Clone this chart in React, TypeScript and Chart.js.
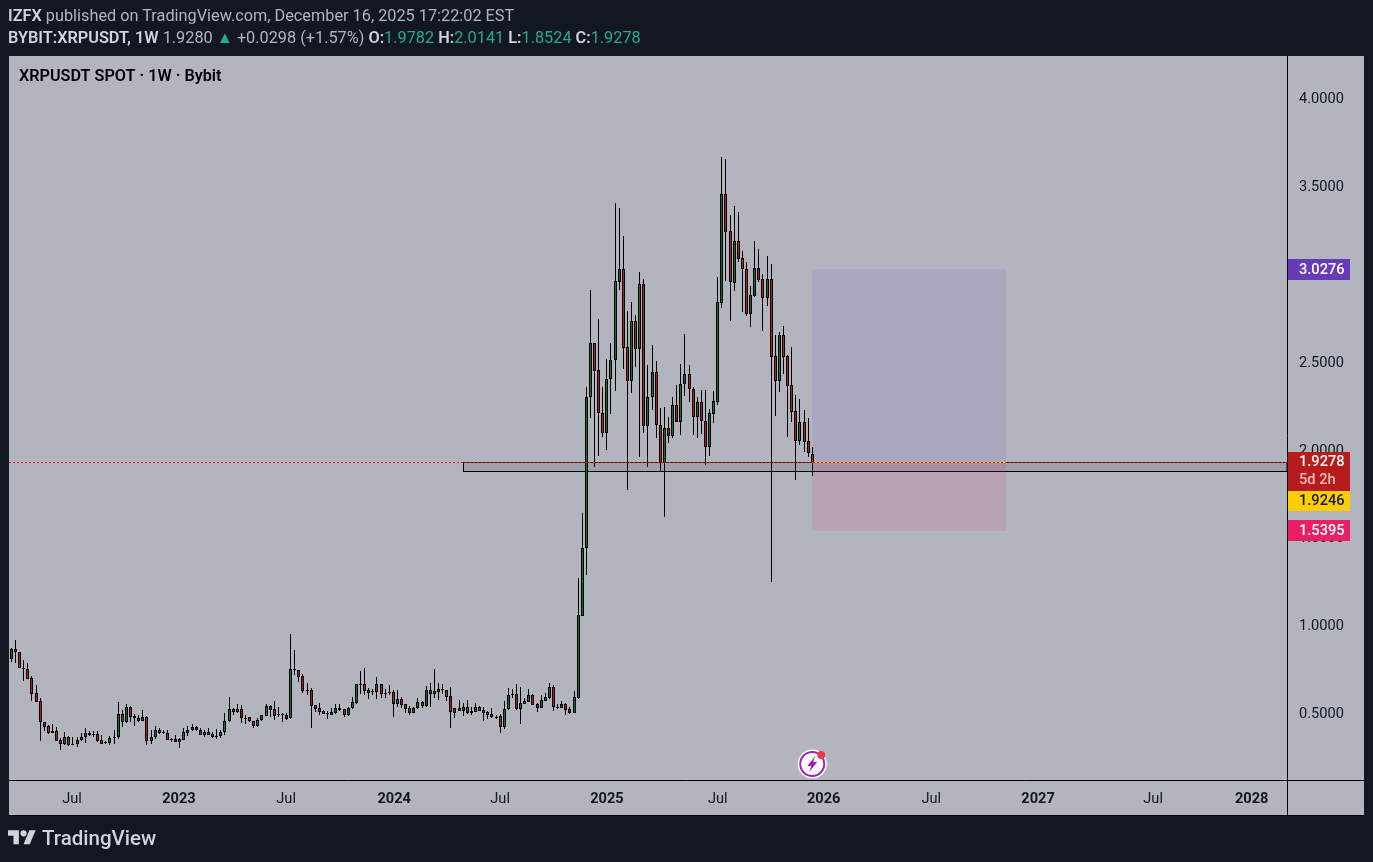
import { useEffect, useRef } from 'react';
import { Chart, registerables } from 'chart.js';
import type { Plugin } from 'chart.js';

Chart.register(...registerables);

// weekly candles
const opens = [
  0.808, 0.865, 0.848, 0.757, 0.755, 0.700, 0.615, 0.569, 0.453, 0.427,
  0.398, 0.398, 0.347, 0.326, 0.364, 0.328, 0.328, 0.347, 0.364, 0.387,
  0.381, 0.381, 0.347, 0.336, 0.332, 0.364, 0.364, 0.495, 0.453, 0.535,
  0.484, 0.472, 0.459, 0.478, 0.345, 0.364, 0.404, 0.393, 0.387, 0.353,
  0.353, 0.353, 0.351, 0.391, 0.404, 0.421, 0.404, 0.393, 0.393, 0.381,
  0.374, 0.374, 0.393, 0.455, 0.524, 0.524, 0.524, 0.472, 0.478, 0.455,
  0.431, 0.461, 0.488, 0.541, 0.524, 0.495, 0.495, 0.490, 0.472, 0.751,
  0.746, 0.711, 0.632, 0.632, 0.546, 0.529, 0.514, 0.501, 0.493, 0.503,
  0.520, 0.524, 0.491, 0.529, 0.560, 0.666, 0.666, 0.634, 0.620, 0.624,
  0.666, 0.615, 0.620, 0.620, 0.554, 0.581, 0.552, 0.529, 0.505, 0.529,
  0.563, 0.545, 0.632, 0.613, 0.624, 0.638, 0.632, 0.598, 0.505, 0.529,
  0.516, 0.535, 0.514, 0.510, 0.535, 0.518, 0.507, 0.495, 0.482, 0.484,
  0.425, 0.524, 0.609, 0.609, 0.527, 0.556, 0.567, 0.603, 0.552, 0.533,
  0.573, 0.588, 0.649, 0.539, 0.533, 0.552, 0.524, 0.505, 0.588, 1.055,
  1.442, 2.301, 2.609, 2.455, 2.210, 2.096, 2.404, 2.512, 2.956, 3.030,
  2.586, 2.392, 2.734, 2.574, 2.944, 2.136, 2.301, 2.444, 2.142, 1.926,
  2.125, 2.079, 2.256, 2.159, 2.375, 2.432, 2.347, 2.187, 2.273, 2.165,
  2.017, 2.204, 2.273, 2.836, 3.457, 3.246, 2.950, 3.189, 3.092, 3.030,
  2.774, 2.876, 3.035, 2.973, 2.865, 2.973, 2.535, 2.392, 2.654, 2.535,
  2.370, 2.221, 2.051, 2.159, 2.051, 1.978,
];

const highs = [
  0.873, 0.918, 0.848, 0.804, 0.789, 0.713, 0.662, 0.586, 0.453, 0.433,
  0.440, 0.421, 0.359, 0.395, 0.370, 0.366, 0.364, 0.389, 0.417, 0.398,
  0.400, 0.398, 0.376, 0.342, 0.370, 0.406, 0.563, 0.520, 0.552, 0.541,
  0.495, 0.491, 0.520, 0.484, 0.406, 0.427, 0.417, 0.404, 0.404, 0.362,
  0.376, 0.362, 0.417, 0.427, 0.440, 0.429, 0.416, 0.406, 0.417, 0.393,
  0.412, 0.406, 0.503, 0.592, 0.529, 0.554, 0.548, 0.490, 0.478, 0.455,
  0.476, 0.490, 0.552, 0.548, 0.569, 0.535, 0.501, 0.501, 0.952, 0.861,
  0.748, 0.725, 0.672, 0.643, 0.546, 0.558, 0.520, 0.514, 0.529, 0.552,
  0.552, 0.524, 0.535, 0.592, 0.666, 0.742, 0.759, 0.643, 0.638, 0.708,
  0.666, 0.638, 0.662, 0.634, 0.634, 0.592, 0.552, 0.543, 0.539, 0.586,
  0.571, 0.657, 0.672, 0.751, 0.672, 0.666, 0.632, 0.649, 0.529, 0.577,
  0.558, 0.577, 0.535, 0.558, 0.543, 0.535, 0.516, 0.529, 0.491, 0.495,
  0.569, 0.643, 0.638, 0.666, 0.649, 0.586, 0.638, 0.609, 0.558, 0.603,
  0.615, 0.672, 0.662, 0.554, 0.569, 0.558, 0.535, 0.628, 1.271, 1.641,
  2.358, 2.910, 2.609, 2.745, 2.358, 2.518, 2.609, 3.405, 3.377, 3.217,
  2.791, 2.842, 2.768, 3.013, 2.973, 2.483, 2.597, 2.506, 2.239, 2.244,
  2.187, 2.301, 2.370, 2.489, 2.660, 2.483, 2.358, 2.301, 2.341, 2.341,
  2.233, 2.335, 2.984, 3.667, 3.656, 3.337, 3.388, 3.354, 3.132, 3.070,
  2.933, 3.189, 3.144, 3.001, 3.104, 3.058, 2.654, 2.671, 2.705, 2.540,
  2.586, 2.313, 2.290, 2.227, 2.182, 2.014,
];

const lows = [
  0.795, 0.789, 0.757, 0.687, 0.698, 0.573, 0.567, 0.345, 0.400, 0.385,
  0.391, 0.345, 0.292, 0.321, 0.315, 0.321, 0.309, 0.345, 0.332, 0.372,
  0.364, 0.338, 0.326, 0.326, 0.321, 0.326, 0.353, 0.425, 0.448, 0.453,
  0.431, 0.453, 0.457, 0.323, 0.328, 0.355, 0.381, 0.383, 0.349, 0.338,
  0.338, 0.304, 0.349, 0.374, 0.398, 0.398, 0.376, 0.368, 0.378, 0.362,
  0.357, 0.362, 0.380, 0.453, 0.491, 0.503, 0.448, 0.440, 0.453, 0.419,
  0.425, 0.455, 0.486, 0.480, 0.463, 0.482, 0.452, 0.465, 0.471, 0.719,
  0.679, 0.619, 0.605, 0.419, 0.509, 0.491, 0.497, 0.469, 0.490, 0.497,
  0.512, 0.480, 0.486, 0.527, 0.552, 0.611, 0.603, 0.583, 0.605, 0.583,
  0.586, 0.588, 0.605, 0.480, 0.535, 0.529, 0.503, 0.491, 0.503, 0.524,
  0.529, 0.539, 0.535, 0.588, 0.577, 0.611, 0.571, 0.419, 0.474, 0.512,
  0.486, 0.499, 0.490, 0.509, 0.512, 0.457, 0.469, 0.472, 0.469, 0.391,
  0.412, 0.520, 0.588, 0.520, 0.440, 0.554, 0.565, 0.548, 0.509, 0.531,
  0.569, 0.583, 0.516, 0.524, 0.531, 0.491, 0.499, 0.503, 0.583, 1.055,
  1.288, 2.182, 1.903, 1.965, 2.074, 2.000, 2.204, 2.335, 2.910, 2.461,
  1.772, 2.324, 2.472, 1.960, 2.096, 1.903, 2.227, 2.068, 1.874, 1.618,
  2.039, 2.068, 2.159, 2.085, 2.307, 2.273, 2.085, 2.068, 2.091, 1.914,
  1.965, 2.153, 2.256, 2.808, 2.961, 2.734, 2.904, 3.070, 2.785, 2.762,
  2.700, 2.870, 2.956, 2.677, 2.819, 1.248, 2.193, 2.330, 2.432, 2.074,
  2.159, 1.829, 2.028, 1.988, 1.960, 1.852,
];

const closes = [
  0.865, 0.848, 0.757, 0.755, 0.698, 0.613, 0.567, 0.453, 0.425, 0.391,
  0.391, 0.345, 0.328, 0.364, 0.321, 0.327, 0.347, 0.364, 0.387, 0.376,
  0.380, 0.345, 0.328, 0.330, 0.359, 0.365, 0.495, 0.453, 0.535, 0.482,
  0.472, 0.459, 0.478, 0.345, 0.364, 0.404, 0.391, 0.387, 0.351, 0.352,
  0.340, 0.340, 0.393, 0.404, 0.421, 0.404, 0.380, 0.378, 0.380, 0.368,
  0.373, 0.393, 0.455, 0.524, 0.510, 0.510, 0.472, 0.471, 0.455, 0.429,
  0.461, 0.490, 0.541, 0.522, 0.488, 0.494, 0.490, 0.471, 0.751, 0.746,
  0.710, 0.630, 0.631, 0.545, 0.527, 0.510, 0.499, 0.500, 0.507, 0.529,
  0.529, 0.493, 0.529, 0.563, 0.666, 0.665, 0.628, 0.617, 0.628, 0.666,
  0.611, 0.614, 0.619, 0.556, 0.581, 0.550, 0.527, 0.503, 0.529, 0.563,
  0.545, 0.632, 0.613, 0.626, 0.638, 0.637, 0.596, 0.507, 0.529, 0.516,
  0.535, 0.505, 0.503, 0.535, 0.516, 0.505, 0.493, 0.482, 0.481, 0.425,
  0.524, 0.603, 0.608, 0.526, 0.558, 0.569, 0.603, 0.550, 0.531, 0.575,
  0.592, 0.649, 0.539, 0.538, 0.554, 0.522, 0.505, 0.592, 1.061, 1.442,
  2.301, 2.609, 2.449, 2.210, 2.096, 2.404, 2.512, 2.961, 3.030, 2.580,
  2.392, 2.734, 2.574, 2.944, 2.136, 2.301, 2.444, 2.142, 1.926, 2.125,
  2.079, 2.256, 2.159, 2.375, 2.432, 2.347, 2.187, 2.273, 2.165, 2.017,
  2.210, 2.278, 2.842, 3.457, 3.240, 2.956, 3.189, 3.087, 3.030, 2.774,
  2.882, 3.035, 2.967, 2.865, 2.973, 2.529, 2.392, 2.654, 2.529, 2.364,
  2.216, 2.051, 2.159, 2.045, 1.983, 1.928,
];

// x axis runs in weeks counted from the first candle
const timeLabels = ['Jul', '2023', 'Jul', '2024', 'Jul', '2025', 'Jul', '2026', 'Jul', '2027', 'Jul', '2028'];
const timeWeeks = [14.75, 40.8, 66.9, 93.2, 119, 145, 172, 197.8, 224, 250, 278, 302];
const priceTicks = [0.5, 1, 1.5, 2, 2.5, 3, 3.5, 4];

const lastPrice = 1.9278;
const entryPrice = 1.9246;
const targetPrice = 3.0276;
const stopPrice = 1.5395;
const boxFromWeek = 195;
const boxToWeek = 242.2;
const zoneFromWeek = 110;
const zoneTop = 1.9285;
const zoneBottom = 1.88;

const DARK = '#131722';
const PANEL = '#b2b5be';
const GREEN = '#0b6e3c';
const RED = '#bb1a1e';
const TEAL = '#22ab94';
const CHART_FONT = 'Roboto, sans-serif';

const tvPlugin: Plugin<'bar'> = {
  id: 'tvLook',
  beforeDraw(chart) {
    const { ctx, width, height, chartArea } = chart;
    ctx.save();
    ctx.fillStyle = DARK;
    ctx.fillRect(0, 0, width, height);
    ctx.fillStyle = PANEL;
    ctx.fillRect(9, chartArea.top, 1355, 759);
    ctx.restore();
  },
  beforeDatasetsDraw(chart) {
    const { ctx, chartArea, scales } = chart;
    // pin the candles to whole pixels like the reference
    chart.data.datasets.forEach((_, i) => {
      chart.getDatasetMeta(i).data.forEach((bar: any) => {
        bar.x = Math.floor(bar.x) + 0.5;
        bar.y = Math.round(bar.y);
        bar.base = Math.max(Math.round(bar.base), bar.y + 1);
      });
    });

    const x = scales.x;
    const y = scales.y;
    ctx.save();
    // support zone
    const zoneLeft = Math.round(x.getPixelForValue(zoneFromWeek)) + 0.5;
    const top = Math.floor(y.getPixelForValue(zoneTop)) + 0.5;
    const bottom = Math.floor(y.getPixelForValue(zoneBottom)) + 0.5;
    ctx.fillStyle = 'rgba(80, 80, 90, 0.2)';
    ctx.fillRect(zoneLeft, top, chartArea.right - zoneLeft, bottom - top);
    ctx.strokeStyle = '#000';
    ctx.lineWidth = 1;
    ctx.strokeRect(zoneLeft, top, chartArea.right - zoneLeft, bottom - top);

    // long position box
    const boxLeft = x.getPixelForValue(boxFromWeek);
    const boxWidth = x.getPixelForValue(boxToWeek) - boxLeft;
    const entryY = y.getPixelForValue(entryPrice);
    ctx.fillStyle = 'rgba(126, 87, 194, 0.15)';
    ctx.fillRect(boxLeft, y.getPixelForValue(targetPrice), boxWidth, entryY - y.getPixelForValue(targetPrice));
    ctx.fillStyle = 'rgba(233, 30, 99, 0.12)';
    ctx.fillRect(boxLeft, entryY, boxWidth, y.getPixelForValue(stopPrice) - entryY);
    ctx.restore();
  },
  afterDatasetsDraw(chart) {
    const { ctx, chartArea, scales } = chart;
    const x = scales.x;
    const y = scales.y;
    const lastY = Math.floor(y.getPixelForValue(zoneTop)) + 0.5;
    ctx.save();
    ctx.lineWidth = 1;
    // entry line in the box
    ctx.strokeStyle = '#ffcc00';
    ctx.beginPath();
    ctx.moveTo(x.getPixelForValue(boxFromWeek), lastY);
    ctx.lineTo(x.getPixelForValue(boxToWeek), lastY);
    ctx.stroke();
    // last price line
    ctx.strokeStyle = '#e0161c';
    ctx.setLineDash([2, 2]);
    ctx.beginPath();
    ctx.moveTo(chartArea.left, lastY);
    ctx.lineTo(chartArea.right, lastY);
    ctx.stroke();
    ctx.setLineDash([]);

    ctx.fillStyle = '#000';
    ctx.font = `600 16.2px ${CHART_FONT}`;
    ctx.textBaseline = 'middle';
    ctx.textAlign = 'left';
    ctx.fillText('XRPUSDT SPOT · 1W · Bybit', 19, 77);

    // event badge
    const badgeX = x.getPixelForValue(boxFromWeek);
    ctx.fillStyle = '#fff';
    ctx.beginPath();
    ctx.arc(badgeX, 764, 14.5, 0, Math.PI * 2);
    ctx.fill();
    ctx.strokeStyle = '#9c27b0';
    ctx.lineWidth = 2;
    ctx.beginPath();
    ctx.arc(badgeX, 764, 12, 0, Math.PI * 2);
    ctx.stroke();
    ctx.fillStyle = '#9c27b0';
    ctx.beginPath();
    ctx.moveTo(badgeX + 3, 756);
    ctx.lineTo(badgeX - 5, 766);
    ctx.lineTo(badgeX - 1, 766);
    ctx.lineTo(badgeX - 3, 772);
    ctx.lineTo(badgeX + 5, 762);
    ctx.lineTo(badgeX + 1, 762);
    ctx.closePath();
    ctx.fill();
    ctx.fillStyle = '#f23645';
    ctx.beginPath();
    ctx.arc(badgeX + 9, 755, 4, 0, Math.PI * 2);
    ctx.fill();
    ctx.restore();
  },
  afterDraw(chart) {
    const { ctx, chartArea, scales } = chart;
    const y = scales.y;
    ctx.save();
    // frame lines
    ctx.strokeStyle = '#000';
    ctx.lineWidth = 1;
    ctx.beginPath();
    ctx.moveTo(chartArea.right + 0.5, chartArea.top);
    ctx.lineTo(chartArea.right + 0.5, 815);
    ctx.moveTo(9, chartArea.bottom + 0.5);
    ctx.lineTo(1364, chartArea.bottom + 0.5);
    ctx.moveTo(9, 815.5);
    ctx.lineTo(1364, 815.5);
    ctx.stroke();

    const labelX = chartArea.right + 1;
    const labelFont = `500 14.6px ${CHART_FONT}`;
    const tag = (price: number, up: number, bg: string, text: string) => {
      const cy = y.getPixelForValue(price);
      const top = Math.round(cy) - up;
      ctx.fillStyle = bg;
      ctx.fillRect(labelX, top, 62, 21);
      ctx.fillStyle = '#fff';
      ctx.font = labelFont;
      ctx.textBaseline = 'middle';
      ctx.textAlign = 'left';
      ctx.fillText(text, labelX + 11, top + 11);
    };
    tag(targetPrice, 10, '#673ab7', targetPrice.toFixed(4));
    tag(stopPrice, 11, '#e91e63', stopPrice.toFixed(4));

    // last price tag with countdown, entry tag right below it
    const lastY = y.getPixelForValue(lastPrice);
    ctx.fillStyle = '#b71c1c';
    ctx.fillRect(labelX, Math.round(lastY - 11), 62, 39);
    ctx.fillStyle = '#ffcc00';
    ctx.fillRect(labelX, Math.round(lastY - 11) + 39, 62, 20);
    ctx.font = labelFont;
    ctx.textBaseline = 'middle';
    ctx.textAlign = 'left';
    ctx.fillStyle = '#fff';
    ctx.fillText(lastPrice.toFixed(4), labelX + 11, lastY);
    ctx.fillStyle = 'rgba(255, 255, 255, 0.7)';
    ctx.fillText('5d 2h', labelX + 11, lastY + 18);
    ctx.fillStyle = '#131722';
    ctx.fillText(entryPrice.toFixed(4), labelX + 11, lastY + 39);
    ctx.restore();
  },
};

const headerStyle: React.CSSProperties = {
  position: 'absolute',
  left: 8,
  whiteSpace: 'nowrap',
  fontFamily: CHART_FONT,
  fontSize: 16.3,
  lineHeight: '20px',
  color: '#b2b5be',
};

const bold: React.CSSProperties = { fontWeight: 600, color: '#d1d4dc' };
const teal: React.CSSProperties = { color: TEAL };

const App = () => {
  const canvasRef = useRef<HTMLCanvasElement>(null);

  useEffect(() => {
    document.body.style.margin = '0';
    document.body.style.background = DARK;
    if (!canvasRef.current) return;

    const weeks = opens.map((_, i) => i);
    const chart = new Chart(canvasRef.current, {
      type: 'bar',
      data: {
        datasets: [
          {
            label: 'Wick',
            data: weeks.map((w) => ({ x: w, y: [lows[w], highs[w]] })) as any,
            backgroundColor: '#000',
            barThickness: 1,
            grouped: false,
            inflateAmount: 0,
            order: 2,
          },
          {
            label: 'Body',
            data: weeks.map((w) => ({ x: w, y: [opens[w], closes[w]] })) as any,
            backgroundColor: weeks.map((w) => (closes[w] >= opens[w] ? GREEN : RED)),
            borderColor: '#000',
            borderWidth: 1,
            borderSkipped: false,
            barThickness: 3,
            grouped: false,
            inflateAmount: 0,
            order: 1,
          },
        ],
      },
      options: {
        responsive: false,
        animation: false,
        layout: { padding: { left: 9, right: 8, top: 56, bottom: 47 } },
        plugins: { legend: { display: false }, tooltip: { enabled: false } },
        scales: {
          x: {
            type: 'linear',
            offset: false,
            min: -0.58,
            max: 310.6,
            grid: { display: false },
            border: { display: false },
            afterBuildTicks: (axis) => {
              axis.ticks = timeWeeks.map((value) => ({ value }));
            },
            afterFit: (axis) => {
              axis.height = 35;
            },
            ticks: {
              autoSkip: false,
              maxRotation: 0,
              padding: 3,
              color: '#131722',
              font: (ctx) => ({
                family: CHART_FONT,
                size: 14.6,
                weight: timeLabels[ctx.index] === 'Jul' ? 400 : 700,
              }),
              callback: (_, index) => timeLabels[index],
            },
          },
          y: {
            position: 'right',
            min: 0.1215,
            max: 4.242,
            grid: { display: false },
            border: { display: false },
            afterBuildTicks: (axis) => {
              axis.ticks = priceTicks.map((value) => ({ value }));
            },
            afterFit: (axis) => {
              axis.width = 78;
            },
            ticks: {
              padding: 4,
              labelOffset: 1,
              color: '#131722',
              font: { family: CHART_FONT, size: 14.6 },
              callback: (value) => Number(value).toFixed(4),
            },
          },
        },
      },
      plugins: [tvPlugin],
    });

    return () => {
      chart.destroy();
    };
  }, []);

  return (
    <div style={{ position: 'relative', width: 1373, height: 862, overflow: 'hidden' }}>
      <canvas ref={canvasRef} width={1373} height={862} style={{ display: 'block' }} />
      <div style={{ ...headerStyle, top: 6 }}>
        <span style={bold}>IZFX</span> published on TradingView.com, December 16, 2025 17:22:02 EST
      </div>
      <div style={{ ...headerStyle, top: 28 }}>
        <span style={bold}>BYBIT:XRPUSDT, 1W</span> 1.9280 <span style={teal}>▲</span> +0.0298 (+1.57%){' '}
        <span style={bold}>O:</span><span style={teal}>1.9782</span>{' '}
        <span style={bold}>H:</span><span style={teal}>2.0141</span>{' '}
        <span style={bold}>L:</span><span style={teal}>1.8524</span>{' '}
        <span style={bold}>C:</span><span style={teal}>1.9278</span>
      </div>
      <svg viewBox="0 0 36 28" width={28} height={22} style={{ position: 'absolute', left: 8, top: 827 }}>
        <path fill="#d1d4dc" d="M14 22H7V11H0V4h14v18ZM28 22h-8l7.5-18h8L28 22Z" />
        <circle fill="#d1d4dc" cx="20" cy="8" r="4" />
      </svg>
      <div style={{ ...headerStyle, left: 42, top: 826, fontSize: 20.5, lineHeight: '24px', fontWeight: 500, color: '#d1d4dc' }}>
        TradingView
      </div>
    </div>
  );
};

export default App;
